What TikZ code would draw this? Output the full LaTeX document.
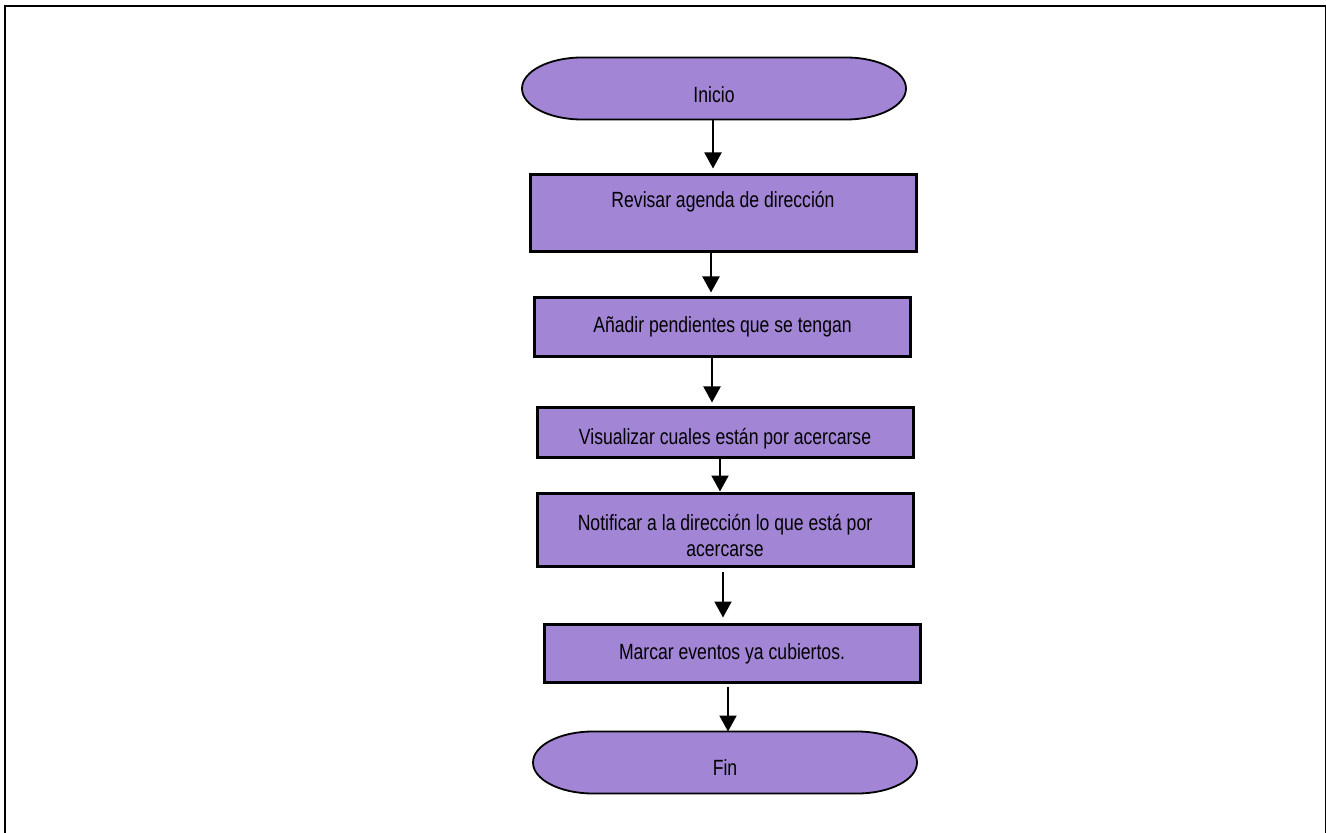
\documentclass[tikz,border=0pt]{standalone}
\usepackage{fontspec}
\setmainfont{Liberation Sans}[FakeStretch=0.8]
\usetikzlibrary{positioning, arrows.meta, backgrounds}
\definecolor{flowpurple}{RGB}{162,133,212}

\begin{document}
\begin{tikzpicture}[
    x=0.5pt, y=-0.5pt,
    base/.style={rectangle, align=center, outer sep=0pt, inner sep=2pt, font=\fontsize{11}{13}\selectfont, text height=8pt, text depth=2.5pt},
    process/.style={base, draw, line width=1.5pt, fill=flowpurple, minimum width=188pt},
    terminal/.style={base, minimum width=192pt, minimum height=31pt},
    termline/.style={draw, line width=0.9pt, fill=flowpurple},
    arrow/.style={-{Triangle[length=8pt, width=8.5pt]}, line width=1pt},
    frame/.style={line width=0.9pt}
]
    \useasboundingbox (0,0) rectangle (1326,833);

    % --- FRAME ---
    \draw[frame] (4.8,833) -- (4.8,5.8) -- (1325.8,5.8) -- (1325.8,833);

    % --- NODES ---
    \node (inicio) [terminal, text height=16.4pt] at (714,88.5) {Inicio};
    \node (revisar) [process, below=27.5pt of inicio, xshift=4.5pt, minimum width=193pt, minimum height=38.5pt, text depth=13.6pt] {Revisar agenda de dirección};
    \node (anadir) [process, below=23pt of revisar, xshift=-0.25pt, minimum height=29.5pt] {Añadir pendientes que se tengan};
    \node (visualizar) [process, below=25.5pt of anadir, xshift=1.25pt, minimum height=25pt, text height=14.1pt] {Visualizar cuales están por acercarse};
    \node (notificar) [process, below=18pt of visualizar, minimum height=36.5pt, text height=28.7pt, text depth=2.5pt] {Notificar a la dirección lo que está por\\acercarse};
    \node (marcar) [process, below=29pt of notificar, xshift=3.5pt, minimum height=29pt] {Marcar eventos ya cubiertos.};
    \node (fin) [terminal, below=24.5pt of marcar, xshift=-3.5pt, text height=15.4pt] {Fin};

    % --- TERMINAL OUTLINES ---
    \begin{scope}[on background layer]
        \draw[termline] ([xshift=30pt]inicio.north west) -- ([xshift=-30pt]inicio.north east)
            arc[start angle=90, end angle=-90, x radius=30pt, y radius=15.5pt]
            -- ([xshift=30pt]inicio.south west)
            arc[start angle=270, end angle=90, x radius=30pt, y radius=15.5pt] -- cycle;
        \draw[termline] ([xshift=30pt]fin.north west) -- ([xshift=-30pt]fin.north east)
            arc[start angle=90, end angle=-90, x radius=30pt, y radius=15.5pt]
            -- ([xshift=30pt]fin.south west)
            arc[start angle=270, end angle=90, x radius=30pt, y radius=15.5pt] -- cycle;
    \end{scope}

    % --- CONNECTIONS ---
    \draw[arrow, shorten >=3pt] ([xshift=-0.5pt]inicio.south) -- ([xshift=-0.5pt]inicio.south |- revisar.north);
    \draw[arrow, shorten >=2.5pt] ([xshift=-6pt]revisar.south) -- ([xshift=-6pt]revisar.south |- anadir.north);
    \draw[arrow, shorten >=2.5pt] ([xshift=-5.25pt]anadir.south) -- ([xshift=-5.25pt]anadir.south |- visualizar.north);
    \draw[arrow, shorten >=1pt] ([xshift=-2.5pt]visualizar.south) -- ([xshift=-2.5pt]visualizar.south |- notificar.north);
    \draw[arrow, shorten <=2.5pt, shorten >=3.5pt] ([xshift=-1pt]notificar.south) -- ([xshift=-1pt]notificar.south |- marcar.north);
    \draw[arrow, shorten <=2pt] ([xshift=-2pt]marcar.south) -- ([xshift=-2pt]marcar.south |- fin.north);

\end{tikzpicture}
\end{document}
